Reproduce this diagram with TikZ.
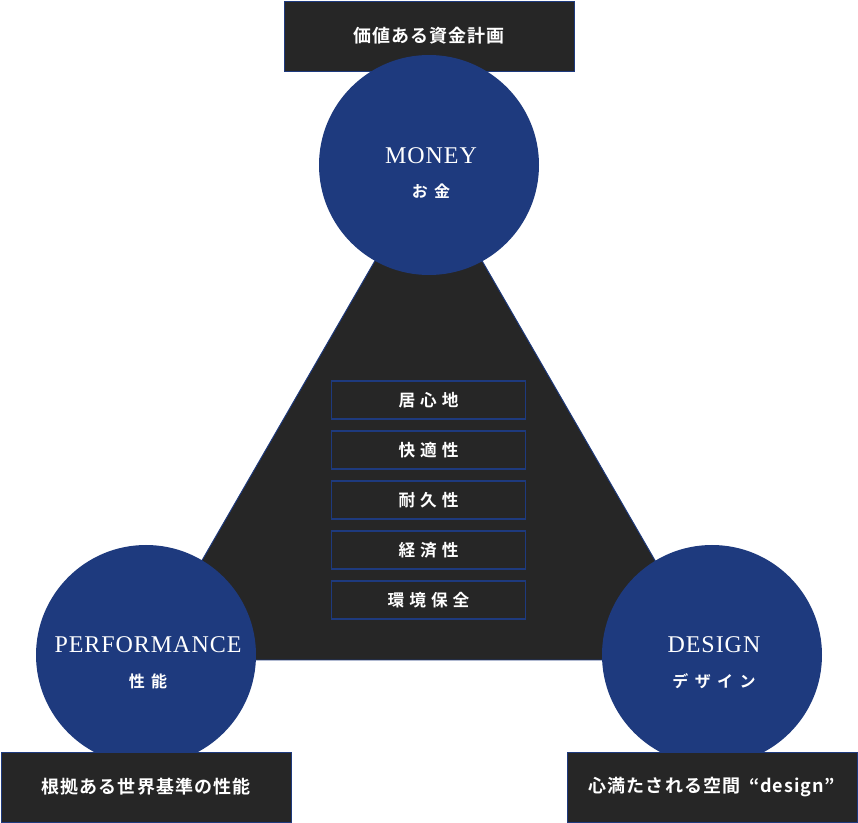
\documentclass[tikz,border=0pt]{standalone}
\usepackage{fontspec}
\setmainfont{Liberation Serif}
\newfontfamily\jp{Noto Sans CJK JP}[BoldFont={* Bold}]
\definecolor{navy}{RGB}{30,58,126}
\definecolor{ink}{RGB}{38,38,38}
\begin{document}
\begin{tikzpicture}[x=0.75pt, y=-0.75pt,
  capbox/.style={draw=navy, fill=ink, line width=0.7pt,
              minimum width=217.5pt, minimum height=52.5pt,
              inner sep=0pt, text=white,
              font=\jp\bfseries\addfontfeatures{LetterSpace=6}\fontsize{13.5}{15}\selectfont},
  item/.style={draw=navy, fill=ink, line width=0.8pt,
               minimum width=146pt, minimum height=28.5pt,
               inner sep=0pt, text=white,
               font=\jp\bfseries\addfontfeatures{LetterSpace=30}\fontsize{12.5}{14}\selectfont},
  disc/.style={circle, fill=navy, minimum size=165pt, inner sep=0pt},
  en/.style={text=white, font=\addfontfeatures{LetterSpace=4}\fontsize{18}{20}\selectfont},
  ja/.style={text=white,
             font=\jp\bfseries\addfontfeatures{LetterSpace=40}\fontsize{12}{14}\selectfont}
]
\useasboundingbox (0,0) rectangle (858,823);
\coordinate (m) at (429,165);
\coordinate (p) at (146,655);
\coordinate (d) at (712,655);
% triangle corners
\coordinate (ta) at (428.5,168);
\coordinate (tl) at (144.5,660);
\coordinate (tr) at (712.5,660);

\node[capbox] (topcap) at (429,36) {価値ある資金計画};
\draw[draw=navy, fill=ink, line width=0.7pt] (ta) -- (tl) -- (tr) -- cycle;

\node[item] (i1) at (428.5,400) {居心地};
\node[item] (i2) at (428.5,450) {快適性};
\node[item] (i3) at (428.5,500) {耐久性};
\node[item] (i4) at (428.5,550) {経済性};
\node[item] (i5) at (428.5,600) {環境保全};

\node[disc] (money) at (m) {};
\node[disc] (perf) at (p) {};
\node[disc] (design) at (d) {};

\node[en] (moneyen) at (431,156) {MONEY};
\node[ja] (moneyja) at (431,191) {お金};
\node[en] (perfen) at (148,645) {PERFORMANCE};
\node[ja] (perfja) at (148,681) {性能};
\node[en] (designen) at (714,645) {DESIGN};
\node[ja] (designja) at (714,681) {デザイン};

\node[capbox] (leftcap) at (146,787) {根拠ある世界基準の性能};
\node[capbox] (rightcap) at (712,787) {心満たされる空間\hspace{0.5em}“design”};
\end{tikzpicture}
\end{document}
